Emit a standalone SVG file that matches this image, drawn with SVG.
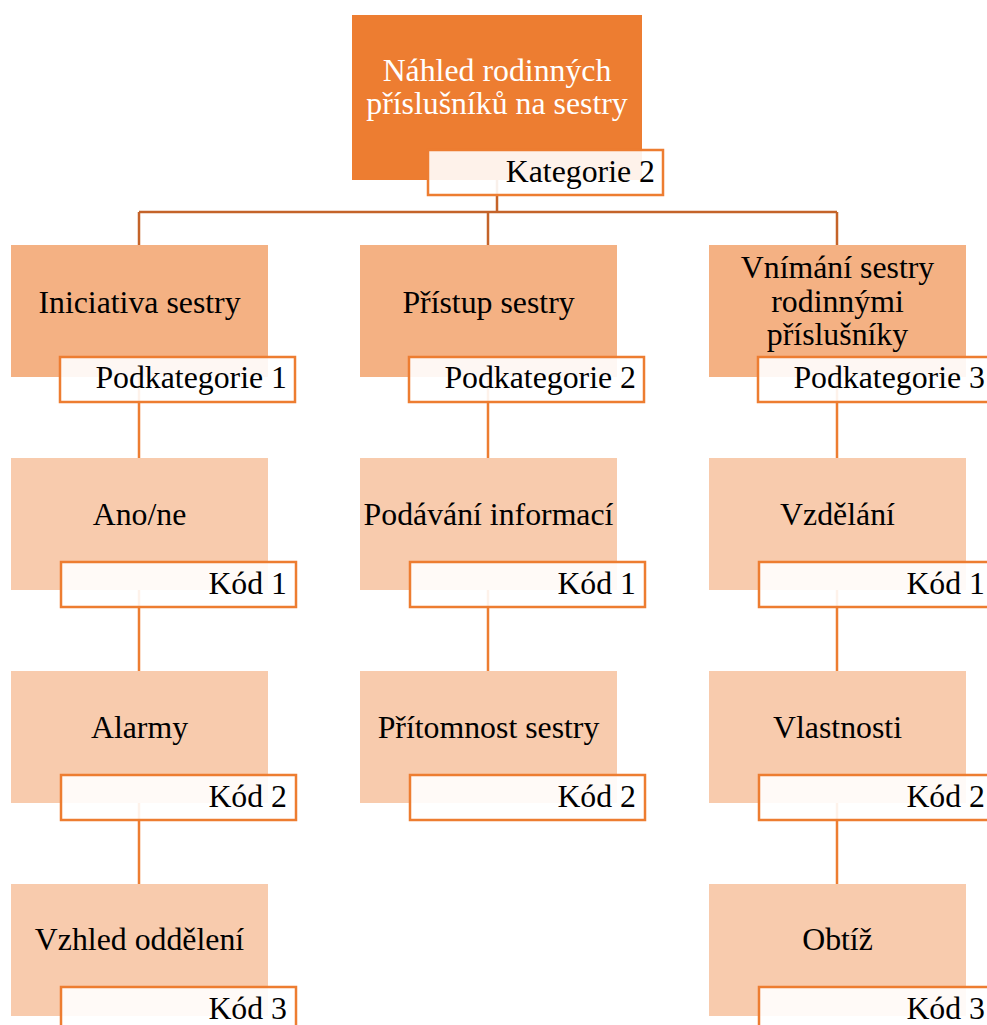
<svg xmlns="http://www.w3.org/2000/svg" width="987" height="1025" viewBox="0 0 987 1025">
<style>
.t{font-family:"Liberation Serif","Times New Roman",serif;font-size:31.8px;fill:#000;text-anchor:middle}
.w{fill:#fff}
.r{text-anchor:end}
.l0{fill:#ED7D31}
.l1{fill:#F4B183}
.l2{fill:#F8CBAD}
.lab{fill:#fff;fill-opacity:0.9;stroke:#ED7D31;stroke-width:2.5}
.c1{stroke:#C46329;stroke-width:2.5;fill:none}
.c2{stroke:#ED7D31;stroke-width:2.5;fill:none}
</style>
<rect width="987" height="1025" fill="#fff"/>
<g id="connectors">
<path class="c1" d="M497 180V212M139 212H837M139 212V245M488 212V245M837 212V245"/>
<path class="c2" d="M139 377V458M139 590V671M139 803V884M488 377V458M488 590V671M837 377V458M837 590V671M837 803V884"/>
</g>
<g id="n0">
<rect class="l0" x="352" y="15" width="290" height="165"/>
<text class="t w" x="497" y="81">Náhled rodinných</text>
<text class="t w" x="497" y="114">příslušníků na sestry</text>
<rect class="lab" x="428" y="150" width="235" height="45"/>
<text class="t r" x="655" y="182">Kategorie 2</text>
</g>
<g id="n1">
<rect class="l1" x="11" y="245" width="257" height="132"/>
<text class="t" x="139.5" y="313">Iniciativa sestry</text>
<rect class="lab" x="60" y="357" width="235" height="45"/>
<text class="t r" x="287" y="388">Podkategorie 1</text>
</g>
<g id="n2">
<rect class="l1" x="360" y="245" width="257" height="132"/>
<text class="t" x="488.5" y="313">Přístup sestry</text>
<rect class="lab" x="409" y="357" width="235" height="45"/>
<text class="t r" x="636" y="388">Podkategorie 2</text>
</g>
<g id="n3">
<rect class="l1" x="709" y="245" width="257" height="132"/>
<text class="t" x="837.5" y="278">Vnímání sestry</text>
<text class="t" x="837.5" y="312">rodinnými</text>
<text class="t" x="837.5" y="345">příslušníky</text>
<rect class="lab" x="758" y="357" width="235" height="45"/>
<text class="t r" x="985" y="388">Podkategorie 3</text>
</g>
<g id="n4">
<rect class="l2" x="11" y="458" width="257" height="132"/>
<text class="t" x="139.5" y="525">Ano/ne</text>
<rect class="lab" x="61" y="562" width="235" height="45"/>
<text class="t r" x="287" y="594">Kód 1</text>
</g>
<g id="n5">
<rect class="l2" x="360" y="458" width="257" height="132"/>
<text class="t" x="488.5" y="525">Podávání informací</text>
<rect class="lab" x="410" y="562" width="235" height="45"/>
<text class="t r" x="636" y="594">Kód 1</text>
</g>
<g id="n6">
<rect class="l2" x="709" y="458" width="257" height="132"/>
<text class="t" x="837.5" y="525">Vzdělání</text>
<rect class="lab" x="759" y="562" width="235" height="45"/>
<text class="t r" x="985" y="594">Kód 1</text>
</g>
<g id="n7">
<rect class="l2" x="11" y="671" width="257" height="132"/>
<text class="t" x="139.5" y="738">Alarmy</text>
<rect class="lab" x="61" y="775" width="235" height="45"/>
<text class="t r" x="287" y="807">Kód 2</text>
</g>
<g id="n8">
<rect class="l2" x="360" y="671" width="257" height="132"/>
<text class="t" x="488.5" y="738">Přítomnost sestry</text>
<rect class="lab" x="410" y="775" width="235" height="45"/>
<text class="t r" x="636" y="807">Kód 2</text>
</g>
<g id="n9">
<rect class="l2" x="709" y="671" width="257" height="132"/>
<text class="t" x="837.5" y="738">Vlastnosti</text>
<rect class="lab" x="759" y="775" width="235" height="45"/>
<text class="t r" x="985" y="807">Kód 2</text>
</g>
<g id="n10">
<rect class="l2" x="11" y="884" width="257" height="132"/>
<text class="t" x="139.5" y="950">Vzhled oddělení</text>
<rect class="lab" x="61" y="987" width="235" height="45"/>
<text class="t r" x="287" y="1019">Kód 3</text>
</g>
<g id="n11">
<rect class="l2" x="709" y="884" width="257" height="132"/>
<text class="t" x="837.5" y="950">Obtíž</text>
<rect class="lab" x="759" y="987" width="235" height="45"/>
<text class="t r" x="985" y="1019">Kód 3</text>
</g>
</svg>
